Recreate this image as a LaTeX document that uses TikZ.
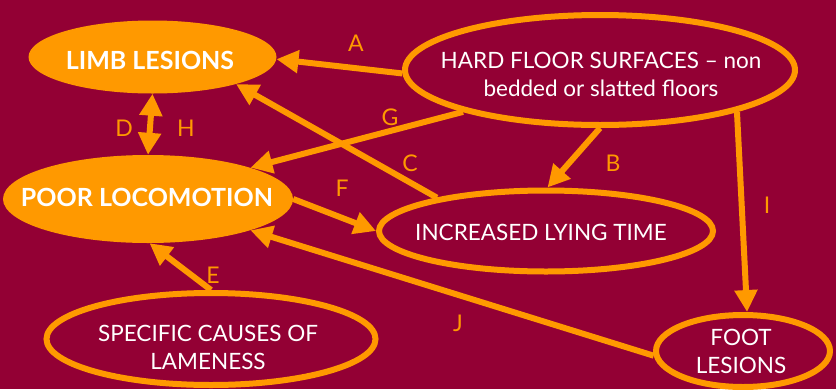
\documentclass[tikz,border=0pt]{standalone}
\usepackage{fontspec}
\setmainfont{Lato}
\usetikzlibrary{shapes.geometric,arrows.meta}
\definecolor{maroon}{RGB}{147,0,52}
\definecolor{amber}{RGB}{255,153,0}

\begin{document}
\begin{tikzpicture}[x=1pt, y=-1pt,
		solid/.style={ellipse, fill=amber, inner sep=0pt},
		hollow/.style={ellipse, draw=amber, line width=6pt, inner sep=0pt},
		bold/.style={text=white, font=\bfseries\fontsize{25}{28}\selectfont},
		plain/.style={text=white, align=center, font=\fontsize{22.5}{28}\selectfont},
		link/.style={draw=amber, line width=6pt, -{Triangle[length=22pt, width=22pt]}},
		tag/.style={text=amber, font=\fontsize{23}{23}\selectfont}]
			% Background and page window
			\fill[maroon] (0,0) rectangle (836,389);
			\useasboundingbox (0,0) rectangle (836,389);
			
			% Ellipses
			\node[solid, minimum width=248pt, minimum height=73pt] (limb) at (152.5,57) {};
			\node[solid, minimum width=290pt, minimum height=88pt] (poor) at (148,199) {};
			\node[hollow, minimum width=390pt, minimum height=110pt] (hard) at (600,70) {};
			\node[hollow, minimum width=334pt, minimum height=81pt] (lying) at (546,231) {};
			\node[hollow, minimum width=329pt, minimum height=92pt] (causes) at (211,339) {};
			\node[hollow, minimum width=174pt, minimum height=72pt] (foot) at (743,351) {};
			
			% Texts
			\node[bold] (limbtxt) at (150,60) {LIMB LESIONS};
			\node[bold] (poortxt) at (147,197) {POOR LOCOMOTION};
			\node[plain] (hardtxt) at (601,74) {HARD FLOOR SURFACES -- non\\bedded or slatted floors};
			\node[plain] (lyingtxt) at (541,232) {INCREASED LYING TIME};
			\node[plain] (causestxt) at (208,347) {SPECIFIC CAUSES OF\\LAMENESS};
			\node[plain] (foottxt) at (741,351) {FOOT\\LESIONS};
			
			% Connectors
			\draw[link] (hard.181) -- (limb.359);
			\draw[link] (hard.197) -- (poor.17);
			\draw[link] (lying.163) -- (limb.342);
			\draw[link] (hard.270) -- (lying.88);
			\draw[link] (hard.343.5) -- (foot.84);
			\draw[link, {Triangle[length=22pt, width=22pt]}-{Triangle[length=22pt, width=22pt]}] (limb.270) -- (poor.90);
			\draw[link] (poor.0) -- (lying.180);
			\draw[link] (causes.90) -- (poor.272);
			\draw[link] (foot.183) -- (poor.343);
			
			% Letters
			\node[tag] (tagA) at (356,43) {A};
			\node[tag] (tagB) at (613,163) {B};
			\node[tag] (tagC) at (410,163) {C};
			\node[tag] (tagD) at (124,128) {D};
			\node[tag] (tagE) at (213,275) {E};
			\node[tag] (tagF) at (342,188) {F};
			\node[tag] (tagG) at (390,117) {G};
			\node[tag] (tagH) at (186,128) {H};
			\node[tag] (tagI) at (767,205) {I};
			\node[tag] (tagJ) at (458,323) {J};
			
		\end{tikzpicture}
\end{document}
